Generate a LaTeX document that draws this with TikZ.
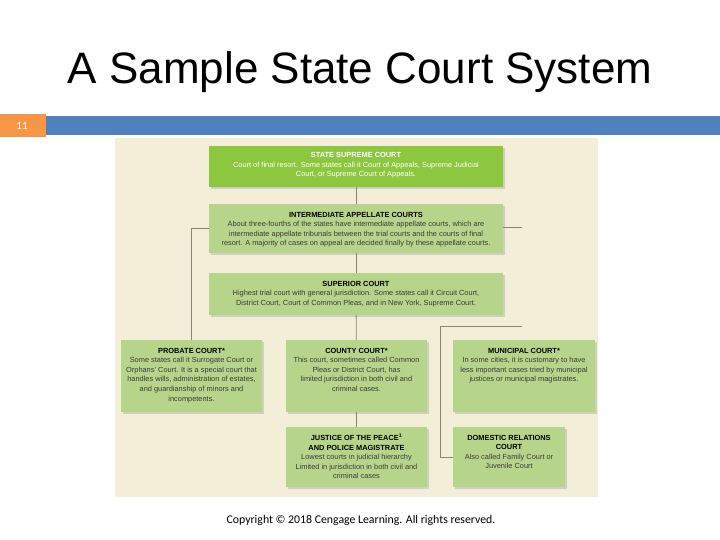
\documentclass[tikz,border=0pt]{standalone}
\usepackage{fontspec}
\setmainfont{Liberation Sans}
\newfontfamily\calibri{Carlito}
\usepackage{tikz}
\usetikzlibrary{positioning, shadows, calc}
\definecolor{barBlue}{HTML}{4F81BD}
\definecolor{barOrange}{HTML}{F79646}
\definecolor{panelBeige}{HTML}{F3EED7}
\definecolor{courtGreen}{HTML}{8DC63F}
\definecolor{courtLight}{HTML}{B6D58B}
\definecolor{lineGrey}{HTML}{8A8272}
\definecolor{bodyGrey}{HTML}{3A3A3A}

\begin{document}
\begin{tikzpicture}[
    x=1pt, y=-1pt,
    court/.style={draw=none, fill=courtLight, inner sep=0pt,
        drop shadow={shadow xshift=1.5pt, shadow yshift=-2pt, opacity=0.28}},
    courttext/.style={anchor=north, align=center, inner sep=0pt, text=bodyGrey,
        font=\fontsize{7.4}{9.6}\selectfont},
    link/.style={draw=lineGrey, line width=0.8pt},
]
    \useasboundingbox[fill=white] (0,0) rectangle (720,540);

    % slide title and bar
    \node[anchor=base, font=\fontsize{44}{50}\selectfont] (title) at (360,84) {A Sample State Court System};
    \fill[barBlue] (46,116) rectangle (720,135);
    \fill[barOrange] (0,114) rectangle (46,137);
    \node[text=white, font=\calibri\fontsize{11}{13}\selectfont] (slideno) at (22,126) {11};

    % chart panel
    \fill[panelBeige] (115,138) rectangle (598,497);

    \node[court, fill=courtGreen, minimum width=294pt, minimum height=41pt] (supreme) at (356,166.5) {};
    \node[court, minimum width=294pt, minimum height=49pt] (inter) at (356,228.5) {};
    \node[court, minimum width=294pt, minimum height=42pt] (superior) at (356,294) {};
    \node[court, minimum width=141pt, minimum height=72pt] (probate) at (191.5,376) {};
    \node[court, minimum width=141pt, minimum height=72pt] (county) at (356.5,376) {};
    \node[court, minimum width=142pt, minimum height=72pt] (municipal) at (524,376) {};
    \node[court, minimum width=141pt, minimum height=60pt] (justice) at (356.5,457) {};
    \node[court, minimum width=112pt, minimum height=60pt] (domestic) at (509,457) {};

    \node[courttext, text=white] (supremeT) at ([yshift=-6.5pt]supreme.north)
        {\textbf{STATE SUPREME COURT}\\Court of final resort. Some states call it Court of Appeals, Supreme Judicial\\Court, or Supreme Court of Appeals.};
    \node[courttext] (interT) at ([yshift=-8pt]inter.north)
        {\textbf{\textcolor{black}{INTERMEDIATE APPELLATE COURTS}}\\About three-fourths of the states have intermediate appellate courts, which are\\intermediate appellate tribunals between the trial courts and the courts of final\\resort. A majority of cases on appeal are decided finally by these appellate courts.};
    \node[courttext] (superiorT) at ([yshift=-8pt]superior.north)
        {\textbf{\textcolor{black}{SUPERIOR COURT}}\\Highest trial court with general jurisdiction. Some states call it Circuit Court,\\District Court, Court of Common Pleas, and in New York, Supreme Court.};
    \node[courttext] (probateT) at ([yshift=-8pt]probate.north)
        {\textbf{\textcolor{black}{PROBATE COURT*}}\\Some states call it Surrogate Court or\\Orphans' Court. It is a special court that\\handles wills, administration of estates,\\and guardianship of minors and\\incompetents.};
    \node[courttext] (countyT) at ([yshift=-8pt]county.north)
        {\textbf{\textcolor{black}{COUNTY COURT*}}\\This court, sometimes called Common\\Pleas or District Court, has\\limited jurisdiction in both civil and\\criminal cases.};
    \node[courttext] (municipalT) at ([yshift=-8pt]municipal.north)
        {\textbf{\textcolor{black}{MUNICIPAL COURT*}}\\In some cities, it is customary to have\\less important cases tried by municipal\\justices or municipal magistrates.};
    \node[courttext] (justiceT) at ([yshift=-7pt]justice.north)
        {\textbf{\textcolor{black}{JUSTICE OF THE PEACE\textsuperscript{1}}}\\\textbf{\textcolor{black}{AND POLICE MAGISTRATE}}\\Lowest courts in judicial hierarchy\\Limited in jurisdiction in both civil and\\criminal cases};
    \node[courttext] (domesticT) at ([yshift=-8pt]domestic.north)
        {\textbf{\textcolor{black}{DOMESTIC RELATIONS}}\\\textbf{\textcolor{black}{COURT}}\\Also called Family Court or\\Juvenile Court};

    % connectors
    \coordinate (stubR) at (522,227);
    \coordinate (teeR) at (522,326);
    \draw[link] (supreme) -- (inter);
    \draw[link] (inter) -- (superior);
    \draw[link] (superior) -- (county);
    \draw[link] (county) -- (justice);
    \draw[link] (inter.west) -| (probate.north);
    \draw[link] (inter.east |- stubR) -- (stubR);
    \draw[link] (teeR) -| ([xshift=-12pt]domestic.west) -- (domestic.west);

    \node[font=\calibri\fontsize{11.8}{14}\selectfont] (copy) at (361,520) {Copyright © 2018 Cengage Learning. All rights reserved.};
\end{tikzpicture}
\end{document}
